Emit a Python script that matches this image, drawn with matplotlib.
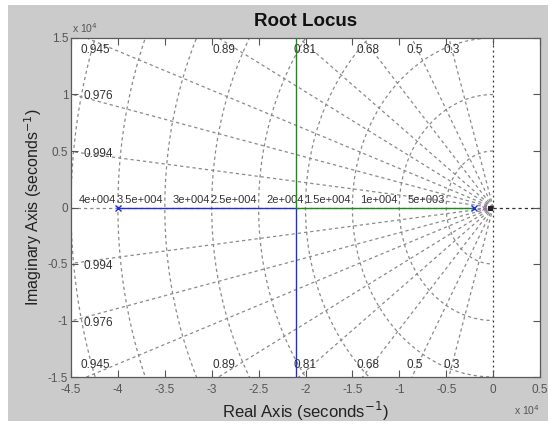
import numpy as np
import matplotlib
matplotlib.use('Agg')
import matplotlib.pyplot as plt
from matplotlib.patches import Rectangle
from matplotlib.ticker import FuncFormatter, MultipleLocator

plt.rcParams['font.family'] = ['Liberation Sans', 'DejaVu Sans']

# open-loop poles (seconds^-1)
POLES = [-40000, -2000]
BREAKAWAY = -21000

# locus branches: real-axis segment then the vertical part through the breakaway point
BLUE_X = [-40000, -21000, -21000]
BLUE_Y = [0, 0, -20000]
GREEN_X = [-2000, -21000, -21000]
GREEN_Y = [0, 0, 20000]

# small pole/zero cluster near the origin
ORIGIN_MARKS_X = [-1000, -300]
ORIGIN_MARKS = ['x', 's']
ORIGIN_COLORS = ['#a060c0', '#222222']

# s-plane grid
ZETAS = [0.3, 0.5, 0.68, 0.81, 0.89, 0.945, 0.976, 0.994]
ZETA_LABELS = ['0.3', '0.5', '0.68', '0.81', '0.89', '0.945', '0.976', '0.994']
WN = [5000, 10000, 15000, 20000, 25000, 30000, 35000, 40000, 45000]
WN_LABELS = ['5e+003', '1e+004', '1.5e+004', '2e+004', '2.5e+004',
             '3e+004', '3.5e+004', '4e+004', '']

XLIM = (-45000, 5000)
YLIM = (-15000, 15000)

GRID_COLOR = '#8a8a8a'
GRID_DASH = (0, (2.6, 2.4))
TXT_COLOR = '#333333'

fig = plt.figure(figsize=(5.51, 4.26), dpi=100)
fig.patch.set_facecolor('white')
# grey figure panel behind the axes
fig.patches.append(Rectangle((8 / 551, 1 - 421 / 426), 540 / 551, 416 / 426,
                             transform=fig.transFigure, facecolor='#cbcbcb',
                             edgecolor='none', zorder=-10))

ax = fig.add_axes([71 / 551, 1 - 377 / 426, 469 / 551, 339 / 426])
ax.set_zorder(1)
ax.set_facecolor('white')
ax.set_xlim(*XLIM)
ax.set_ylim(*YLIM)

# constant natural-frequency arcs (left half plane)
th = np.linspace(np.pi / 2, 3 * np.pi / 2, 400)
for wn, lbl in zip(WN, WN_LABELS):
    ax.plot(wn * np.cos(th), wn * np.sin(th), color=GRID_COLOR,
            linestyle=GRID_DASH, linewidth=0.9, zorder=1)
    if lbl:
        ax.text(-wn - 150, 250, lbl, ha='right', va='bottom',
                fontsize=8, color=TXT_COLOR, zorder=3)

# constant damping rays
for z, lbl in zip(ZETAS, ZETA_LABELS):
    s = np.sqrt(1 - z ** 2)
    for sign in (1, -1):
        ax.plot([0, -z * 1e5], [0, sign * s * 1e5], color=GRID_COLOR,
                linestyle=GRID_DASH, linewidth=0.9, zorder=1)
        x_edge = -YLIM[1] * z / s
        if x_edge > XLIM[0]:
            ax.text(x_edge - 600, sign * (YLIM[1] - 500), lbl,
                    ha='left', va='top' if sign > 0 else 'bottom',
                    fontsize=8.5, color=TXT_COLOR, zorder=3)
        else:
            y_edge = -XLIM[0] * s / z
            ax.text(XLIM[0] + 1300, sign * y_edge - 200, lbl,
                    ha='left', va='center', fontsize=8.5,
                    color=TXT_COLOR, zorder=3)

# zeta = 1 and zeta = 0 lines
ax.plot([XLIM[0], 0], [0, 0], color=GRID_COLOR, linestyle=GRID_DASH,
        linewidth=0.9, zorder=1)
ax.plot([0, XLIM[1]], [0, 0], color='#333333', linestyle=GRID_DASH,
        linewidth=0.9, zorder=1)
ax.plot([0, 0], list(YLIM), color='#333333', linestyle=(0, (1.5, 2.5)),
        linewidth=0.9, zorder=1)

# root locus branches
ax.plot(BLUE_X, BLUE_Y, color='#1f2fd8', linewidth=1.0, zorder=4)
ax.plot(GREEN_X, GREEN_Y, color='#1a8a1a', linewidth=1.0, zorder=4)
ax.plot(POLES, [0] * len(POLES), linestyle='none', marker='x',
        color='#1f2fd8', markersize=5, markeredgewidth=1.0, zorder=5)
for mx, mk, mc in zip(ORIGIN_MARKS_X, ORIGIN_MARKS, ORIGIN_COLORS):
    ax.plot([mx], [0], linestyle='none', marker=mk, color=mc,
            markersize=3, markeredgewidth=0.8, zorder=5)

# axes styling
ax.xaxis.set_major_locator(MultipleLocator(5000))
ax.yaxis.set_major_locator(MultipleLocator(5000))
fmt = FuncFormatter(lambda v, p: f"{v / 1e4:g}")
ax.xaxis.set_major_formatter(fmt)
ax.yaxis.set_major_formatter(fmt)
ax.tick_params(direction='in', length=5, width=0.8, top=True, right=True,
               colors='#555555', labelcolor='#555555', labelsize=8.5, pad=2)
ax.tick_params(axis='x', pad=5)
for sp in ax.spines.values():
    sp.set_edgecolor('#5a5a5a')
    sp.set_linewidth(0.9)

ax.set_title('Root Locus', fontsize=13.5, fontweight='bold', color='#111111',
             pad=9)
ax.set_xlabel('Real Axis (seconds$^{-1}$)', fontsize=12, color='#222222',
              labelpad=3)
ax.set_ylabel('Imaginary Axis (seconds$^{-1}$)', fontsize=11.5, color='#222222',
              labelpad=3)

# exponent markers for both axes
fig.text(72 / 551, 1 - 28 / 426, r'x 10$^4$', fontsize=7.5, color='#555555',
         ha='left', va='center')
fig.text(540 / 551, 1 - 410 / 426, r'x 10$^4$', fontsize=7.5, color='#555555',
         ha='right', va='center')

fig.savefig('out.png', dpi=100)
